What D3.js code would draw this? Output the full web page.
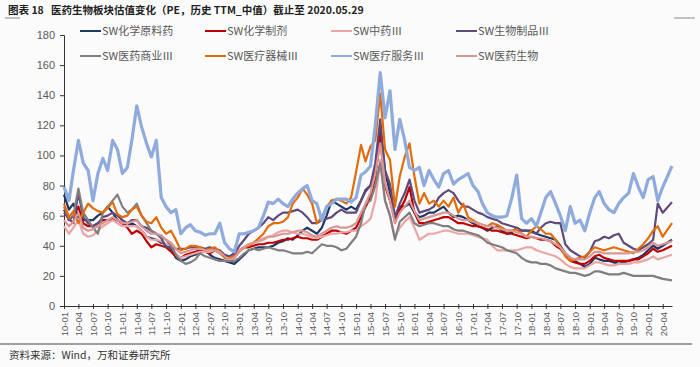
<!DOCTYPE html>
<html>
<head>
<meta charset="utf-8">
<script src="https://cdn.jsdelivr.net/npm/d3@7"></script>
<style>
  body { margin: 0; background: #fbfbfb; }
  svg { display: block; }
  .title { font-family: "Noto Sans CJK SC", sans-serif; font-weight: bold; font-size: 10.5px; fill: #222; white-space: pre; }
  .source { font-family: "Noto Sans CJK SC", sans-serif; font-size: 10.5px; fill: #333; }
  .legend text { font-family: "Noto Sans CJK SC", sans-serif; font-size: 11px; fill: #595959; }
  .axis text { font-family: "Liberation Sans", Arial, sans-serif; fill: #595959; }
</style>
</head>
<body>
<svg id="chart" width="700" height="367"></svg>
<script>
// series names, in legend order
const names = ['SW化学原料药', 'SW化学制剂', 'SW中药Ⅲ', 'SW生物制品Ⅲ',
               'SW医药商业Ⅲ', 'SW医疗器械Ⅲ', 'SW医疗服务Ⅲ', 'SW医药生物'];
const colors = ['#1F3864', '#C00000', '#EBA5A5', '#604A7B',
                '#7F7F7F', '#E36C09', '#8FAADC', '#D99694'];

const yTicks = [0, 20, 40, 60, 80, 100, 120, 140, 160, 180];

// monthly PE readings, 2010-01 .. 2020-05 (last point = 2020-05-29)
const chemRaw = [
  74, 64, 68, 59, 57, 57, 57, 60, 62, 66, 62, 57,
  55, 53, 55, 53, 50, 46, 45, 44, 42, 41, 38, 32,
  30, 31, 33, 34, 36, 37, 34, 32, 31, 30, 29, 28,
  31, 34, 37, 38, 39, 39, 39, 40, 42, 43, 45, 44,
  47, 50, 52, 50, 48, 52, 60, 70, 68, 66, 64, 66,
  64, 70, 77, 80, 92, 117, 90, 75, 57, 66, 66, 68,
  62, 59, 60, 62, 62, 64, 66, 62, 59, 60, 59, 57,
  55, 53, 52, 50, 52, 53, 50, 48, 49, 52, 50, 50,
  50, 48, 47, 46, 45, 44, 40, 35, 32, 30, 28, 26,
  28, 32, 31, 30, 30, 29, 28, 29, 30, 31, 32, 34,
  37, 40, 38, 40, 44];
const chemPrep = [
  64, 57, 60, 66, 55, 53, 53, 55, 57, 57, 58, 57,
  55, 52, 48, 50, 48, 43, 39, 41, 40, 39, 36, 33,
  32, 34, 35, 36, 37, 36, 35, 37, 35, 33, 32, 33,
  37, 39, 39, 40, 41, 41, 42, 42, 43, 44, 44, 45,
  46, 45, 45, 44, 44, 46, 48, 50, 50, 49, 48, 50,
  52, 59, 66, 72, 85, 113, 80, 70, 57, 64, 70, 79,
  62, 55, 55, 56, 57, 58, 59, 59, 57, 55, 55, 54,
  53, 53, 52, 51, 50, 50, 49, 48, 48, 47, 46, 45,
  46, 45, 44, 44, 43, 40, 38, 34, 30, 29, 28, 28,
  30, 33, 34, 32, 31, 30, 30, 30, 30, 31, 31, 33,
  35, 38, 36, 37, 40];
const tcm = [
  53, 48, 52, 57, 48, 46, 47, 50, 53, 55, 57, 55,
  53, 53, 53, 53, 50, 46, 44, 44, 43, 41, 40, 35,
  32, 33, 34, 35, 36, 36, 36, 37, 35, 32, 30, 32,
  37, 39, 41, 42, 44, 45, 46, 47, 49, 50, 50, 49,
  48, 48, 47, 46, 45, 46, 47, 48, 48, 49, 49, 50,
  50, 53, 55, 58, 70, 97, 70, 60, 46, 52, 56, 59,
  52, 44, 46, 48, 48, 49, 50, 50, 49, 48, 48, 48,
  47, 46, 45, 44, 40, 37, 37, 37, 37, 37, 38, 39,
  39, 37, 36, 35, 34, 33, 31, 28, 26, 25, 25, 25,
  27, 29, 29, 28, 27, 27, 28, 28, 28, 29, 29, 30,
  31, 33, 31, 32, 34];
const bio = [
  62, 58, 55, 75, 59, 55, 53, 55, 59, 60, 62, 60,
  57, 55, 57, 57, 53, 52, 50, 48, 45, 39, 39, 38,
  38, 38, 39, 39, 39, 38, 39, 38, 37, 34, 33, 35,
  40, 44, 48, 50, 52, 55, 59, 57, 60, 62, 62, 63,
  64, 62, 59, 55, 55, 57, 58, 59, 62, 64, 62, 62,
  62, 70, 76, 80, 95, 124, 90, 81, 59, 68, 75, 84,
  70, 62, 63, 64, 66, 72, 75, 77, 75, 70, 66, 66,
  64, 62, 61, 59, 58, 57, 55, 54, 53, 52, 50, 50,
  49, 48, 52, 55, 56, 55, 55, 41, 37, 35, 33, 32,
  36, 43, 44, 46, 45, 47, 48, 42, 40, 38, 37, 39,
  41, 44, 68, 62, 69];
const comm = [
  66, 58, 60, 78, 62, 57, 52, 48, 62, 66, 70, 74,
  66, 62, 64, 68, 60, 55, 50, 48, 46, 44, 40, 34,
  30, 28, 29, 31, 35, 33, 32, 31, 30, 30, 30, 30,
  32, 35, 37, 38, 37, 38, 39, 38, 37, 37, 36, 35,
  35, 35, 36, 35, 38, 41, 40, 40, 39, 37, 38, 42,
  46, 55, 68, 70, 80, 95, 70, 60, 44, 56, 59, 62,
  55, 53, 54, 55, 55, 54, 53, 53, 51, 50, 50, 49,
  48, 47, 45, 42, 41, 40, 39, 37, 36, 35, 32, 30,
  29, 29, 28, 28, 27, 25, 24, 23, 22, 22, 21, 20,
  21, 23, 23, 22, 21, 21, 21, 22, 21, 20, 20, 20,
  20, 20, 19, 18, 17];
const device = [
  68, 59, 63, 55, 62, 68, 65, 63, 62, 65, 69, 61,
  59, 60, 64, 66, 60, 56, 55, 59, 52, 48, 50, 44,
  37, 38, 40, 40, 39, 37, 38, 39, 36, 32, 32, 33,
  36, 39, 40, 42, 45, 48, 53, 55, 55, 56, 59, 68,
  72, 78, 74, 68, 55, 59, 66, 70, 71, 70, 68, 72,
  89, 107, 96, 106, 110, 141, 104, 97, 66, 86, 99, 108,
  86, 68, 75, 68, 70, 66, 70, 66, 72, 62, 68, 59,
  57, 55, 54, 53, 55, 54, 52, 50, 50, 51, 48, 46,
  50, 53, 51, 48, 48, 44, 39, 33, 30, 31, 32, 33,
  36, 39, 38, 37, 38, 39, 38, 37, 36, 35, 38, 41,
  45, 50, 53, 46, 55];
const service = [
  79, 70, 90, 110, 95, 90, 70, 88, 98, 90, 110, 104,
  88, 92, 110, 133, 119, 108, 99, 110, 72, 66, 62, 64,
  48, 52, 54, 50, 49, 47, 48, 48, 55, 42, 38, 36,
  48, 48, 49, 50, 52, 60, 69, 68, 71, 68, 66, 71,
  75, 78, 80, 70, 68, 57, 66, 68, 71, 71, 71, 69,
  72, 87, 89, 93, 120, 155, 125, 143, 104, 124, 110, 92,
  90, 92, 80, 90, 84, 79, 88, 90, 81, 84, 86, 88,
  80, 76, 68, 62, 60, 59, 59, 60, 72, 87, 58, 55,
  58, 53, 62, 72, 76, 68, 60, 50, 66, 55, 57, 50,
  62, 72, 76, 68, 64, 62, 68, 72, 75, 88, 79, 72,
  84, 86, 70, 79, 93];
const pharma = [
  57, 53, 56, 62, 52, 50, 51, 53, 55, 57, 59, 57,
  55, 55, 56, 57, 53, 50, 48, 48, 47, 44, 42, 38,
  35, 36, 37, 38, 38, 37, 37, 37, 36, 33, 31, 32,
  36, 39, 41, 42, 43, 44, 46, 46, 47, 48, 48, 49,
  50, 50, 49, 47, 46, 48, 50, 52, 53, 52, 52, 53,
  55, 62, 68, 75, 88, 108, 82, 70, 55, 62, 66, 70,
  63, 57, 58, 59, 60, 61, 62, 62, 60, 58, 57, 57,
  56, 55, 54, 53, 53, 52, 51, 50, 50, 49, 48, 46,
  46, 45, 45, 44, 43, 41, 39, 35, 32, 31, 31, 31,
  33, 36, 36, 35, 35, 35, 35, 35, 35, 36, 36, 37,
  39, 42, 40, 41, 43];

const seriesValues = [chemRaw, chemPrep, tcm, bio, comm, device, service, pharma];
const strokeWidths = [2.2, 2.2, 2.2, 2.2, 2.2, 2.2, 3.2, 2.2];

// dates: first of each month, last point is the cut-off day
const dates = chemRaw.map((v, i) => i === chemRaw.length - 1 ? new Date(2020, 4, 29) : new Date(2010, i, 1));
const tickDates = d3.range(0, 124, 3).map(m => new Date(2010, m, 1));

const svg = d3.select('#chart');

const x = d3.scaleTime()
  .domain([new Date(2010, 0, 1), new Date(2020, 4, 29)])
  .range([64, 672]);
const y = d3.scaleLinear()
  .domain([0, 180])
  .range([306, 35]);

// title
svg.append('text')
  .attr('class', 'title')
  .attr('x', 8)
  .attr('y', 14)
  .text('图表 18   医药生物板块估值变化（PE，历史 TTM_中值）截止至 2020.05.29');

svg.append('line').attr('x1', 5).attr('x2', 20).attr('y1', 18).attr('y2', 18)
  .attr('stroke', '#888').attr('stroke-width', 1);
svg.append('line').attr('x1', 674).attr('x2', 695).attr('y1', 18).attr('y2', 18)
  .attr('stroke', '#888').attr('stroke-width', 1);

// axes
const yAxis = svg.append('g')
  .attr('class', 'axis')
  .attr('transform', 'translate(64,0)')
  .call(d3.axisLeft(y).tickValues(yTicks).tickSize(4).tickPadding(5));
yAxis.selectAll('text').style('font-size', '11px');

const xAxis = svg.append('g')
  .attr('class', 'axis')
  .attr('transform', 'translate(0,306)')
  .call(d3.axisBottom(x).tickValues(tickDates).tickFormat(d3.timeFormat('%y-%m')).tickSizeOuter(0));
xAxis.selectAll('.tick line').attr('y1', -2).attr('y2', 3);
xAxis.selectAll('text')
  .style('font-size', '9.5px')
  .attr('transform', 'rotate(-90)')
  .attr('text-anchor', 'end')
  .attr('x', -6)
  .attr('y', 0)
  .attr('dy', '0.35em');

svg.selectAll('.axis path, .axis line').attr('stroke', '#333');

// lines
const line = d3.line()
  .x((d, i) => x(dates[i]))
  .y(d => y(d));

svg.append('g')
  .selectAll('path')
  .data(seriesValues)
  .enter()
  .append('path')
  .attr('d', line)
  .attr('fill', 'none')
  .attr('stroke', (d, i) => colors[i])
  .attr('stroke-width', (d, i) => strokeWidths[i])
  .attr('stroke-linejoin', 'round');

// legend
const legend = svg.append('g').attr('class', 'legend');
const legendCols = [80, 205, 331, 456];
const legendRows = [31, 56];
names.forEach((name, i) => {
  const lx = legendCols[i % 4];
  const ly = legendRows[Math.floor(i / 4)];
  legend.append('line')
    .attr('x1', lx).attr('x2', lx + 21)
    .attr('y1', ly).attr('y2', ly)
    .attr('stroke', colors[i])
    .attr('stroke-width', 2);
  legend.append('text')
    .attr('x', lx + 22)
    .attr('y', ly)
    .attr('dy', '0.35em')
    .text(name);
});

// bottom rule and source
svg.append('line').attr('x1', 0).attr('x2', 692).attr('y1', 344).attr('y2', 344)
  .attr('stroke', '#444').attr('stroke-width', 1.2);
svg.append('text')
  .attr('class', 'source')
  .attr('x', 9)
  .attr('y', 359)
  .text('资料来源：Wind，万和证券研究所');
</script>
</body>
</html>
